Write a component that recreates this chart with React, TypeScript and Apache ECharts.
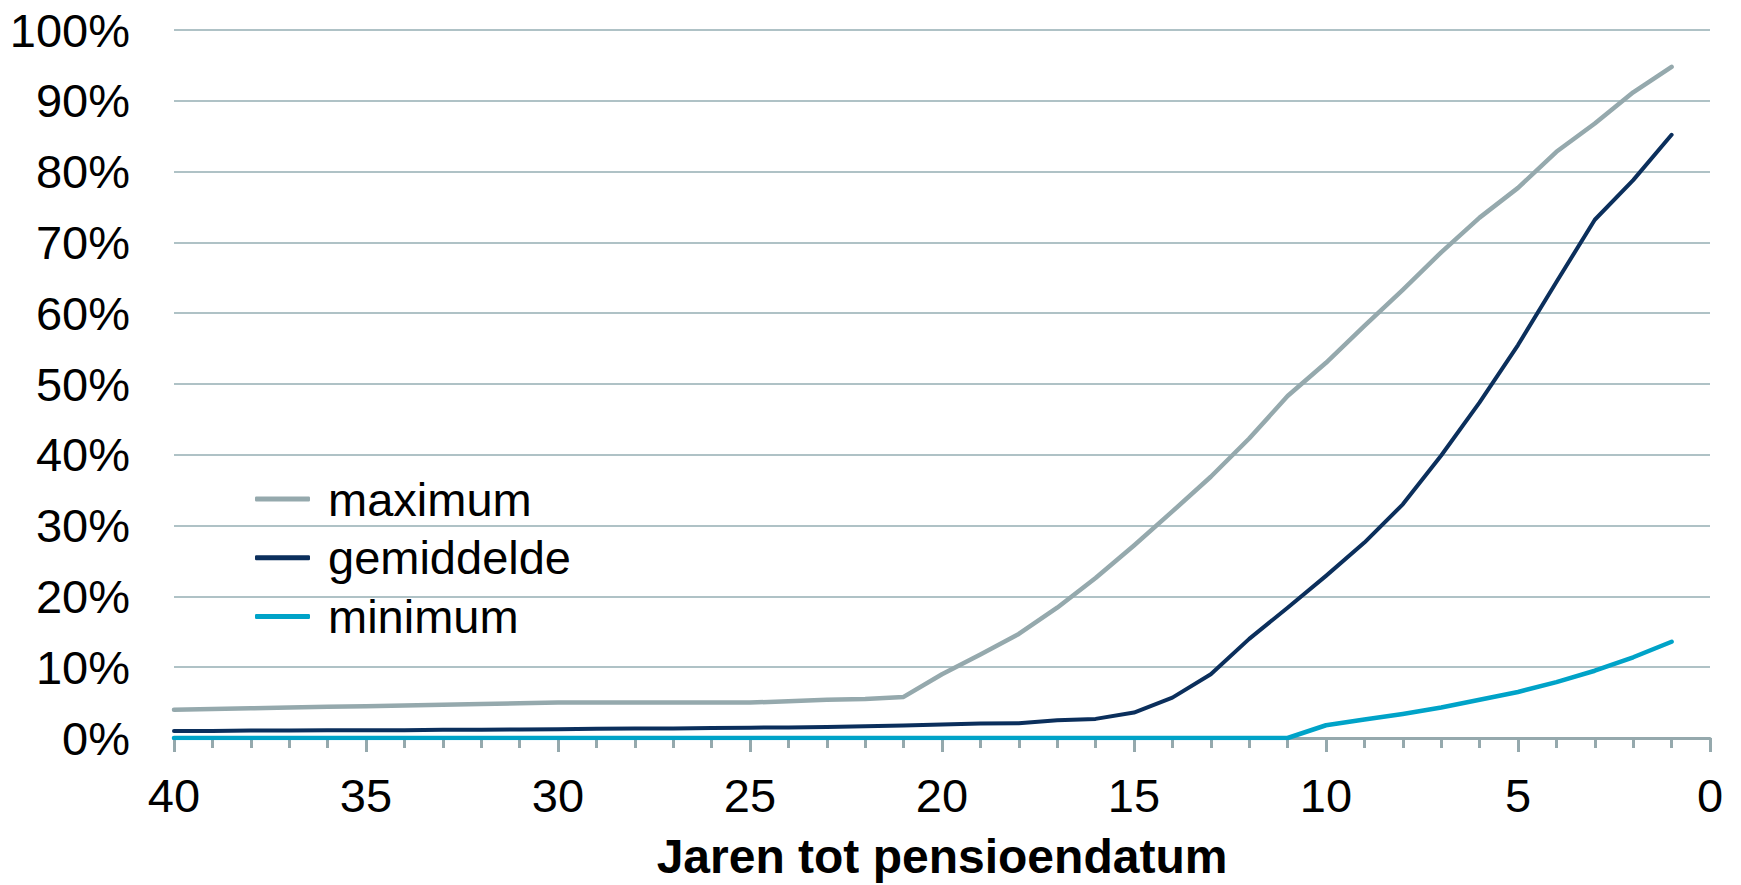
import React, { useEffect, useRef } from "react";
import * as echarts from "echarts";

const years = [40, 39, 38, 37, 36, 35, 34, 33, 32, 31, 30, 29, 28, 27, 26, 25, 24, 23, 22, 21, 20, 19, 18, 17, 16, 15, 14, 13, 12, 11, 10, 9, 8, 7, 6, 5, 4, 3, 2, 1];
const maximum = [4.0, 4.1, 4.2, 4.3, 4.4, 4.5, 4.6, 4.7, 4.8, 4.9, 5.0, 5.0, 5.0, 5.0, 5.0, 5.0, 5.2, 5.4, 5.5, 5.8, 9.0, 11.8, 14.7, 18.4, 22.6, 27.2, 32.0, 36.9, 42.3, 48.3, 53.0, 58.2, 63.3, 68.6, 73.5, 77.7, 82.8, 86.8, 91.2, 94.8];
const gemiddelde = [1.0, 1.0, 1.05, 1.05, 1.1, 1.1, 1.1, 1.15, 1.15, 1.2, 1.25, 1.3, 1.35, 1.35, 1.4, 1.45, 1.5, 1.55, 1.65, 1.75, 1.9, 2.05, 2.1, 2.5, 2.7, 3.6, 5.7, 9.0, 14.0, 18.4, 22.9, 27.6, 33.0, 39.9, 47.4, 55.5, 64.4, 73.2, 78.8, 85.2];
const minimum = [0, 0, 0, 0, 0, 0, 0, 0, 0, 0, 0, 0, 0, 0, 0, 0, 0, 0, 0, 0, 0, 0, 0, 0, 0, 0, 0, 0, 0, 0, 1.8, 2.6, 3.4, 4.3, 5.4, 6.5, 7.9, 9.5, 11.4, 13.6];
const seriesNames = ["maximum", "gemiddelde", "minimum"];
const xTitle = "Jaren tot pensioendatum";

const FONT = "'Liberation Sans', Arial, sans-serif";
const colors = ["#95A9AD", "#0B2F5C", "#00A3C8"];
const widths = [4.5, 4, 4.5];

export default function App() {
  const ref = useRef<HTMLDivElement>(null);
  useEffect(() => {
    if (!ref.current) return;
    const chart = echarts.init(ref.current, undefined, { renderer: "svg" });
    const toPairs = (vals: number[]) => years.map((y, i) => [y, vals[i]]);
    const allSeries = [maximum, gemiddelde, minimum];
    chart.setOption({
      animation: false,
      backgroundColor: "#ffffff",
      textStyle: { fontFamily: FONT },
      grid: { left: 174, right: 31, top: 30, bottom: 146, containLabel: false },
      legend: {
        orient: "vertical",
        left: 255,
        top: 474,
        padding: 0,
        itemGap: 8.7,
        itemWidth: 55,
        itemHeight: 5,
        icon: "roundRect",
        data: seriesNames,
        textStyle: { fontSize: 47, lineHeight: 50, color: "#000", fontFamily: FONT, padding: [0, 0, 0, 13] },
      },
      xAxis: {
        type: "value",
        min: 0,
        max: 40,
        interval: 5,
        inverse: true,
        name: xTitle,
        nameLocation: "middle",
        nameGap: 94,
        nameTextStyle: { fontSize: 48, fontWeight: "bold", color: "#000", fontFamily: FONT },
        axisLine: { show: true, lineStyle: { color: "#95A9AD", width: 3 } },
        axisTick: { show: true, length: 14, lineStyle: { color: "#95A9AD", width: 3 } },
        minorTick: { show: true, splitNumber: 5, length: 10, lineStyle: { color: "#95A9AD", width: 3 } },
        splitLine: { show: false },
        axisLabel: { fontSize: 47, color: "#000", margin: 34, fontFamily: FONT },
      },
      yAxis: {
        type: "value",
        min: 0,
        max: 100,
        interval: 10,
        axisLine: { show: false },
        axisTick: { show: false },
        splitLine: { show: true, lineStyle: { color: "#AFC2C6", width: 2 } },
        axisLabel: { fontSize: 47, color: "#000", margin: 44, formatter: "{value}%", fontFamily: FONT },
      },
      series: seriesNames.map((name, i) => ({
        name,
        type: "line",
        data: toPairs(allSeries[i]),
        showSymbol: false,
        symbol: "none",
        color: colors[i],
        lineStyle: { color: colors[i], width: widths[i], cap: "round", join: "round" },
        z: 3 + i,
      })),
    });
    return () => chart.dispose();
  }, []);
  return (
    <div
      ref={ref}
      style={{ position: "absolute", left: 0, top: 0, width: 1741, height: 885 }}
    />
  );
}
